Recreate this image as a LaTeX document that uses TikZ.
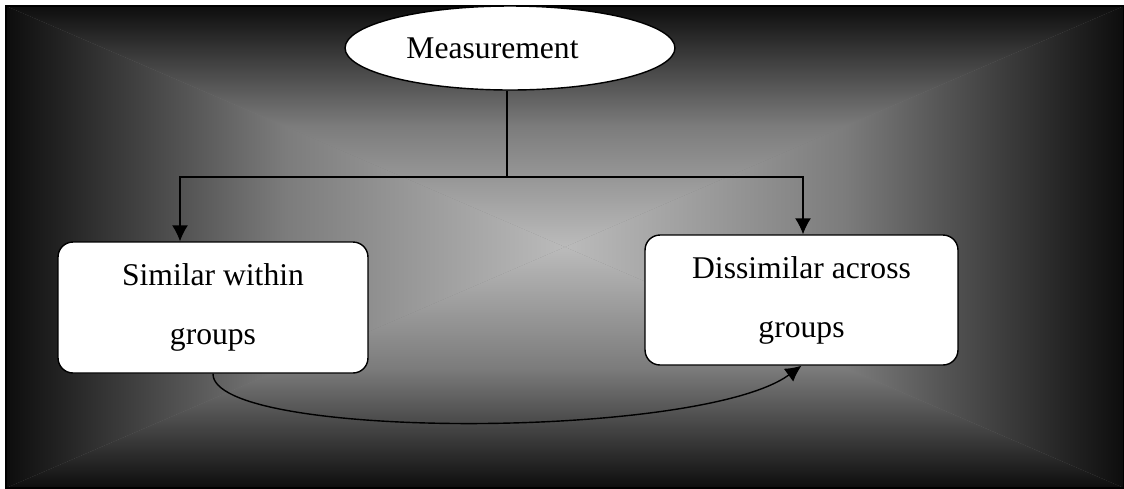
\documentclass[tikz,border=0pt]{standalone}
\usepackage{fontspec}
\setmainfont{Liberation Serif}
\usetikzlibrary{arrows.meta, shapes.geometric}
\definecolor{bgedge}{HTML}{0D0D0D}
\definecolor{bgmid}{HTML}{7C7C7C}
\definecolor{bgcentre}{HTML}{BBBBBB}
\begin{document}
\begin{tikzpicture}[x=0.02cm, y=-0.02cm]
    \tikzset{
      textbox/.style={draw, thick, fill=white, rectangle, rounded corners=0.3cm, align=center,
          font=\fontsize{18}{33.5}\selectfont},
      link/.style={thick},
      arrowlink/.style={thick, -{Latex[length=0.32cm, width=0.32cm]}}
    }
    \useasboundingbox (0,0) rectangle (1124,488);

    % background
    \fill[bgmid] (6,6) rectangle (1124,488);
    \shade[top color=bgedge, bottom color=bgcentre, middle color=bgmid] (6,6) -- (1124,6) -- (565,247) -- cycle;
    \shade[top color=bgcentre, bottom color=bgedge, middle color=bgmid] (6,488) -- (1124,488) -- (565,247) -- cycle;
    \shade[left color=bgedge, right color=bgcentre, middle color=bgmid] (6,6) -- (6,488) -- (565,247) -- cycle;
    \shade[left color=bgcentre, right color=bgedge, middle color=bgmid] (1124,6) -- (1124,488) -- (565,247) -- cycle;
    \draw[black, line width=1pt] (6,6) rectangle (1124,488);

    \node[draw, thick, fill=white, ellipse, minimum width=6.6cm, minimum height=1.68cm, inner sep=0pt,
        font=\fontsize{18}{22}\selectfont] (measurement) at (510, 48) {Measurement\hspace*{0.7cm}};

    \node[textbox, minimum width=6.2cm, minimum height=2.62cm] (similar) at (213, 307.5) {Similar within\\groups};
    \node[textbox, minimum width=6.26cm, minimum height=2.6cm] (dissimilar) at (801.5, 300) {Dissimilar across\\groups};

    \coordinate (split) at (507, 177);
    \coordinate (leftdrop) at (180, 177);
    \coordinate (rightdrop) at (803, 177);

    \draw[link] (measurement.south -| split) -- (split);
    \draw[arrowlink] (split) -- (leftdrop) -- (leftdrop |- similar.north);
    \draw[arrowlink] (split) -- (rightdrop) -- (rightdrop |- dissimilar.north);
    \draw[arrowlink] (similar.south) .. controls (212, 440) and (700, 440) .. (dissimilar.south);
  \end{tikzpicture}
\end{document}
